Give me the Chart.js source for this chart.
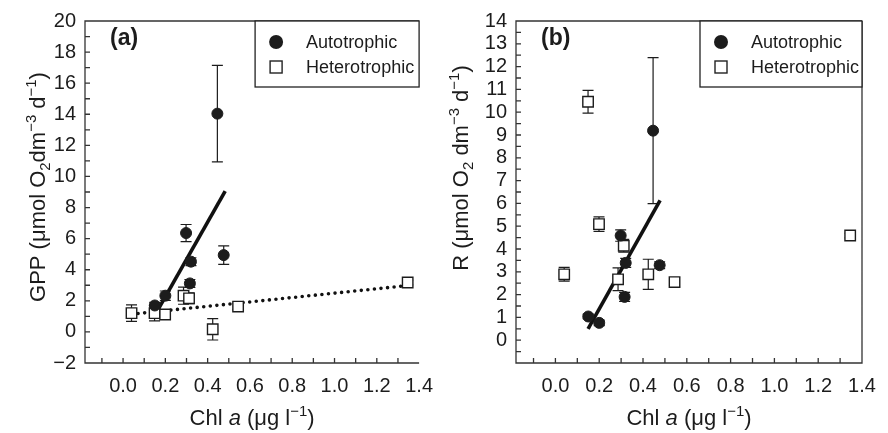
<!DOCTYPE html>
<html>
<head>
<meta charset="utf-8">
<script src="https://cdn.jsdelivr.net/npm/chart.js@4.4.0/dist/chart.umd.min.js"></script>
<style>
  body { margin: 0; background: #fff; }
  #wrap { display: flex; width: 888px; height: 433px; }
  canvas { display: block; }
</style>
</head>
<body>
<div id="wrap">
  <canvas id="gpp" width="444" height="433"></canvas>
  <canvas id="resp" width="444" height="433"></canvas>
</div>
<script>
const FONT = "'Liberation Sans', Arial, Helvetica, sans-serif";
const INK = "#1c1c1c";

// Chl a of the sites
const chlAuto = [0.15, 0.2, 0.298, 0.321, 0.316, 0.446, 0.476];
const chlHetero = [0.04, 0.149, 0.199, 0.286, 0.312, 0.424, 0.544, 1.346];

// (a) GPP
const gppAuto = [1.70, 2.33, 6.36, 4.52, 3.12, 14.04, 4.94];
const gppAutoErr = [0.2, 0.3, 0.55, 0.25, 0.25, 3.1, 0.6];
const gppHetero = [1.21, 1.21, 1.12, 2.33, 2.16, 0.17, 1.63, 3.18];
const gppHeteroErr = [0.53, 0.5, 0.15, 0.55, 0.35, 0.69, 0.2, 0.15];

// (b) R
const rAuto = [1.04, 0.76, 4.59, 3.39, 1.90, 9.19, 3.29];
const rAutoErr = [0.1, 0.12, 0.25, 0.2, 0.2, 3.2, 0.15];
const rHetero = [2.89, 10.46, 5.09, 2.67, 4.14, 2.89, 2.55, 4.59];
const rHeteroErr = [0.3, 0.5, 0.32, 0.5, 0.28, 0.66, 0.2, 0.1];

// regression lines, end points
const fitGppAutoX = [0.16, 0.483];
const fitGppAutoY = [1.3, 9.06];
const fitGppHeteroX = [0.04, 1.345];
const fitGppHeteroY = [1.14, 2.98];
const fitRAutoX = [0.149, 0.478];
const fitRAutoY = [0.5, 6.13];

const seriesNames = ["Autotrophic", "Heterotrophic"];
const xTickLabels = [0.0, 0.2, 0.4, 0.6, 0.8, 1.0, 1.2, 1.4];
const gppTickLabels = [-2, 0, 2, 4, 6, 8, 10, 12, 14, 16, 18, 20];
const rTickLabels = [0, 1, 2, 3, 4, 5, 6, 7, 8, 9, 10, 11, 12, 13, 14];

function pts(xs, ys) {
    return xs.map((x, i) => ({ x: x, y: ys[i] }));
}

function fmtNum(v) {
    return v < 0 ? "\u2212" + Math.abs(v) : String(v);
}

// draws a text made of parts (sub/superscript, italic) centred on 0,0
function richText(ctx, parts, size) {
    const fontOf = p => (p.italic ? "italic " : "") + ((p.sup || p.sub) ? size * 0.68 : size) + "px " + FONT;
    let total = 0;
    parts.forEach(p => { ctx.font = fontOf(p); total += ctx.measureText(p.t).width; });
    let x = -total / 2;
    ctx.textBaseline = "alphabetic";
    ctx.textAlign = "left";
    parts.forEach(p => {
        ctx.font = fontOf(p);
        let dy = 0;
        if (p.sup) dy = -size * 0.4;
        if (p.sub) dy = size * 0.22;
        ctx.fillText(p.t, x, dy);
        x += ctx.measureText(p.t).width;
    });
}

const errorBars = {
    id: "errorBars",
    beforeDatasetsDraw(chart) {
        const ctx = chart.ctx;
        const xs = chart.scales.x, ys = chart.scales.y;
        ctx.save();
        ctx.strokeStyle = INK;
        ctx.lineWidth = 1.2;
        chart.data.datasets.forEach(ds => {
            if (!ds.errors) return;
            ds.data.forEach((p, i) => {
                const e = ds.errors[i];
                const px = xs.getPixelForValue(p.x);
                const top = ys.getPixelForValue(p.y + e);
                const bot = ys.getPixelForValue(p.y - e);
                ctx.beginPath();
                ctx.moveTo(px, top); ctx.lineTo(px, bot);
                ctx.moveTo(px - 5.5, top); ctx.lineTo(px + 5.5, top);
                ctx.moveTo(px - 5.5, bot); ctx.lineTo(px + 5.5, bot);
                ctx.stroke();
            });
        });
        ctx.restore();
    }
};

const frame = {
    id: "frame",
    afterDraw(chart, args, opts) {
        const ctx = chart.ctx;
        const a = chart.chartArea;
        const xs = chart.scales.x, ys = chart.scales.y;
        ctx.save();
        ctx.strokeStyle = "#333";
        ctx.lineWidth = 1.3;
        ctx.beginPath();
        ctx.moveTo(a.right, a.top); ctx.lineTo(a.left, a.top);
        ctx.lineTo(a.left, a.bottom); ctx.lineTo(a.right, a.bottom);
        if (opts.right) ctx.lineTo(a.right, a.top);
        // inward tick marks
        xs.ticks.forEach(t => {
            const px = xs.getPixelForValue(t.value);
            if (px <= a.left + 1 || px >= a.right - 1) return;
            ctx.moveTo(px, a.bottom); ctx.lineTo(px, a.bottom - 5);
        });
        ys.ticks.forEach(t => {
            const py = ys.getPixelForValue(t.value);
            if (py <= a.top + 1 || py >= a.bottom - 1) return;
            ctx.moveTo(a.left, py); ctx.lineTo(a.left + 5, py);
        });
        ctx.stroke();

        // legend box
        const bw = opts.legendWidth, bh = 66;
        const bx = a.right - bw, by = a.top;
        ctx.fillStyle = "#fff";
        ctx.fillRect(bx, by, bw, bh);
        ctx.strokeStyle = "#222";
        ctx.lineWidth = 1.3;
        ctx.strokeRect(bx, by, bw, bh);
        ctx.fillStyle = INK;
        ctx.beginPath();
        ctx.arc(bx + 21, by + 21, 7, 0, Math.PI * 2);
        ctx.fill();
        ctx.lineWidth = 1.4;
        ctx.strokeRect(bx + 15, by + 40, 12, 12);
        ctx.font = "18px " + FONT;
        ctx.textBaseline = "middle";
        ctx.textAlign = "left";
        ctx.fillText(seriesNames[0], bx + 51, by + 22);
        ctx.fillText(seriesNames[1], bx + 51, by + 47);

        // panel letter
        ctx.font = "bold 23px " + FONT;
        ctx.textBaseline = "alphabetic";
        ctx.fillText(opts.letter, a.left + 25, 45);

        // axis titles
        ctx.fillStyle = INK;
        ctx.save();
        ctx.translate((a.left + a.right) / 2 + opts.xTitleShift, 425);
        richText(ctx, [{ t: "Chl " }, { t: "a", italic: true }, { t: " (\u03bcg l" }, { t: "\u22121", sup: true }, { t: ")" }], 22);
        ctx.restore();
        ctx.save();
        ctx.translate(opts.yTitleX, opts.yTitleY);
        ctx.rotate(-Math.PI / 2);
        richText(ctx, opts.yTitle, 22);
        ctx.restore();
        ctx.restore();
    }
};

function xScale() {
    return {
        type: "linear",
        min: -0.18,
        max: 1.4,
        afterFit: s => { s.height = 70; },
        grid: { display: false, drawTicks: false },
        border: { display: false },
        ticks: {
            stepSize: 0.1,
            includeBounds: false,
            autoSkip: false,
            maxRotation: 0,
            padding: 11,
            color: INK,
            font: { family: FONT, size: 20 },
            callback: v => {
                const k = Math.round(v * 10) / 10;
                return xTickLabels.includes(k) ? k.toFixed(1) : "";
            }
        }
    };
}

function yScale(min, max, step, labels, width) {
    return {
        type: "linear",
        min: min,
        max: max,
        afterFit: s => { s.width = width; },
        grid: { display: false, drawTicks: false },
        border: { display: false },
        ticks: {
            stepSize: step,
            autoSkip: false,
            padding: 9,
            color: INK,
            font: { family: FONT, size: 20 },
            callback: v => labels.includes(v) ? fmtNum(v) : ""
        }
    };
}

function autoSet(xs, ys, err) {
    return {
        label: seriesNames[0], data: pts(xs, ys), errors: err,
        pointStyle: "circle", pointRadius: 5.5, pointBorderWidth: 1,
        backgroundColor: INK, borderColor: INK, showLine: false, order: 0
    };
}
function heteroSet(xs, ys, err) {
    return {
        label: seriesNames[1], data: pts(xs, ys), errors: err,
        pointStyle: "rect", pointRadius: 7.4, pointBorderWidth: 1.4,
        backgroundColor: "#fff", borderColor: INK, showLine: false, order: 0
    };
}
function fitSet(xs, ys, dotted) {
    return {
        label: "fit", data: pts(xs, ys), showLine: true, pointRadius: 0,
        borderColor: "#111", borderWidth: dotted ? 3.6 : 3.6,
        borderDash: dotted ? [0, 6.6] : [], borderCapStyle: dotted ? "round" : "butt",
        order: 1
    };
}

function baseOptions(yCfg, pad, frameOpts) {
    return {
        responsive: false,
        devicePixelRatio: 1,
        animation: false,
        layout: { padding: pad },
        scales: { x: xScale(), y: yCfg },
        plugins: { legend: { display: false }, tooltip: { enabled: false }, frame: frameOpts }
    };
}

new Chart(document.getElementById("gpp"), {
    type: "scatter",
    data: {
        datasets: [
            autoSet(chlAuto, gppAuto, gppAutoErr),
            heteroSet(chlHetero, gppHetero, gppHeteroErr),
            fitSet(fitGppAutoX, fitGppAutoY, false),
            fitSet(fitGppHeteroX, fitGppHeteroY, true)
        ]
    },
    options: baseOptions(
        yScale(-2, 20, 1, gppTickLabels, 85),
        { top: 16, right: 16, left: 0, bottom: 0 },
        {
            letter: "(a)", legendWidth: 164, right: false, xTitleShift: 0,
            yTitleX: 45, yTitleY: 187,
            yTitle: [{ t: "GPP (\u03bcmol O" }, { t: "2", sub: true }, { t: "dm" }, { t: "\u22123", sup: true }, { t: " d" }, { t: "\u22121", sup: true }, { t: ")" }]
        }
    ),
    plugins: [errorBars, frame]
});

new Chart(document.getElementById("resp"), {
    type: "scatter",
    data: {
        datasets: [
            autoSet(chlAuto, rAuto, rAutoErr),
            heteroSet(chlHetero, rHetero, rHeteroErr),
            fitSet(fitRAutoX, fitRAutoY, false)
        ]
    },
    options: baseOptions(
        yScale(-1, 14, 0.5, rTickLabels, 72),
        { top: 16, right: 26, left: 0, bottom: 0 },
        {
            letter: "(b)", legendWidth: 162, right: true, xTitleShift: 0,
            yTitleX: 24, yTitleY: 168,
            yTitle: [{ t: "R (\u03bcmol O" }, { t: "2", sub: true }, { t: " dm" }, { t: "\u22123", sup: true }, { t: " d" }, { t: "\u22121", sup: true }, { t: ")" }]
        }
    ),
    plugins: [errorBars, frame]
});
</script>
</body>
</html>
